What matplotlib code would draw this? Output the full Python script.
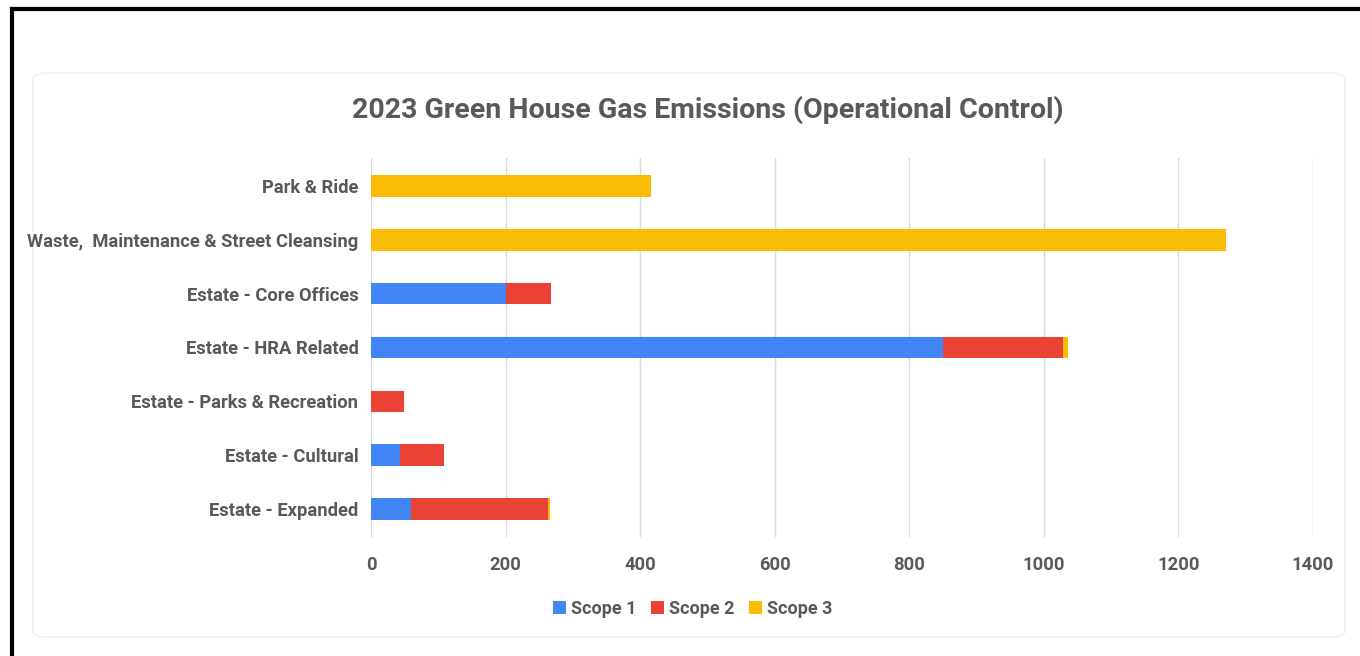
import numpy as np
import matplotlib.pyplot as plt
from matplotlib.lines import Line2D
from matplotlib.patches import FancyBboxPatch

plt.rcParams['font.family'] = ['Roboto', 'DejaVu Sans']

categories = ['Park & Ride',
              'Waste,  Maintenance & Street Cleansing',
              'Estate - Core Offices',
              'Estate - HRA Related',
              'Estate - Parks & Recreation',
              'Estate - Cultural',
              'Estate - Expanded']
scope1 = [0, 0, 200, 850, 0, 43, 60]
scope2 = [0, 0, 67, 178, 49, 65, 203]
scope3 = [416, 1270, 0, 8.5, 0, 0, 2.5]
series_names = ['Scope 1', 'Scope 2', 'Scope 3']
colors = ['#4285F4', '#EA4335', '#FBBC04']
xticks = [0, 200, 400, 600, 800, 1000, 1200, 1400]

text_col = '#595959'

fig = plt.figure(figsize=(13.6, 6.56), dpi=100)
W, H = 1360, 656

# faint card outline behind the chart
card = FancyBboxPatch((33 / W, 1 - 637 / H), (1345 - 33) / W, (637 - 73) / H,
                      boxstyle='round,pad=0,rounding_size=0.01',
                      transform=fig.transFigure, facecolor='white',
                      edgecolor='#eeeeee', linewidth=1, zorder=-5)
fig.patches.append(card)

# black screenshot border (top and left)
fig.add_artist(Line2D([11.5 / W, 1], [1 - 8.5 / H, 1 - 8.5 / H], color='black', lw=3,
                      transform=fig.transFigure))
fig.add_artist(Line2D([11.5 / W, 11.5 / W], [0, 1 - 8.5 / H], color='black', lw=3,
                      transform=fig.transFigure))

ax = fig.add_axes([371 / W, 1 - 537 / H, (1313 - 371) / W, (537 - 158) / H])
ax.set_facecolor('none')
ax.set_zorder(2)

y = np.arange(len(categories))
left = np.zeros(len(categories))
for vals, name, c in zip([scope1, scope2, scope3], series_names, colors):
    ax.barh(y, vals, left=left, height=0.4, color=c, label=name, zorder=3)
    left += np.array(vals)

ax.set_ylim(len(categories) - 0.48, -0.52)
ax.set_xlim(0, 1400)
ax.set_xticks(xticks)
ax.set_yticks(y)
ax.set_yticklabels(categories)
ax.grid(axis='x', color='#d9d9d9', lw=1, zorder=0)
for s in ['top', 'right', 'bottom']:
    ax.spines[s].set_visible(False)
ax.spines['left'].set_color('#d9d9d9')
ax.tick_params(length=0)
ax.tick_params(axis='y', pad=9)
ax.tick_params(axis='x', pad=14)
for lbl in ax.get_yticklabels() + ax.get_xticklabels():
    lbl.set_fontsize(13.2)
    lbl.set_fontweight('bold')
    lbl.set_color(text_col)

fig.text(708 / W, 1 - 110 / H, '2023 Green House Gas Emissions (Operational Control)',
         ha='center', va='center', fontsize=20.5, fontweight='bold', color=text_col)

leg = fig.legend(loc='center', bbox_to_anchor=(693 / W, 1 - 609 / H), ncol=3,
                 frameon=False, handlelength=0.7, handleheight=0.7,
                 handletextpad=0.3, columnspacing=0.8,
                 prop={'size': 13, 'weight': 'bold'})
for t in leg.get_texts():
    t.set_color(text_col)

fig.savefig('out.png', dpi=100, facecolor='white')
